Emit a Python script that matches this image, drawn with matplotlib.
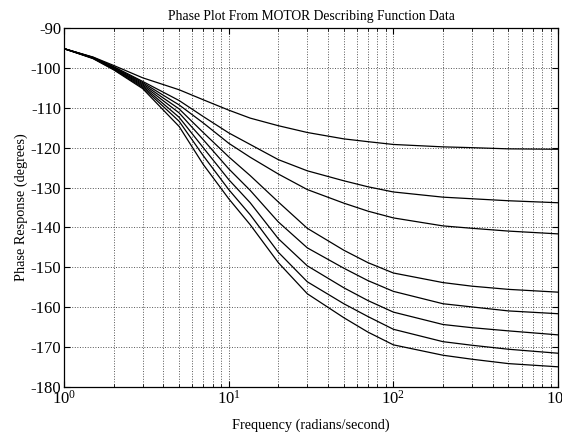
import matplotlib
matplotlib.use("Agg")
import matplotlib.pyplot as plt
from matplotlib.ticker import LogLocator, NullFormatter, MultipleLocator

plt.rcParams['font.family'] = ['Liberation Serif', 'DejaVu Serif']
plt.rcParams['mathtext.fontset'] = 'stix'
plt.rcParams['axes.unicode_minus'] = False

freq = [1, 1.5, 2, 3, 5, 7, 10, 13.5, 20, 30, 50, 70, 100, 200, 300, 500, 1000]

# phase (deg), one list per describing function curve, top to bottom
phase1 = [-95.2, -97.3, -99.4, -102.5, -105.5, -108.0, -110.6, -112.6, -114.5, -116.2, -117.8, -118.5, -119.2, -119.8, -120.0, -120.3, -120.4]
phase2 = [-95.2, -97.4, -99.7, -103.4, -108.2, -112.2, -116.3, -119.2, -123.0, -125.8, -128.3, -129.8, -131.1, -132.4, -132.8, -133.3, -133.8]
phase3 = [-95.2, -97.4, -99.8, -103.7, -109.3, -113.8, -118.9, -122.4, -126.6, -130.5, -133.9, -135.9, -137.6, -139.6, -140.2, -140.9, -141.6]
phase4 = [-95.2, -97.5, -100.0, -104.0, -110.3, -116.2, -122.3, -127.0, -133.6, -140.2, -145.7, -148.8, -151.4, -153.8, -154.7, -155.5, -156.2]
phase5 = [-95.2, -97.5, -100.1, -104.3, -111.3, -118.0, -125.3, -130.7, -138.6, -145.1, -150.2, -153.3, -156.0, -159.1, -159.9, -160.9, -161.6]
phase6 = [-95.2, -97.6, -100.2, -104.6, -112.4, -120.0, -128.0, -133.8, -142.8, -149.6, -155.1, -158.3, -161.2, -164.3, -165.1, -165.9, -166.9]
phase7 = [-95.2, -97.6, -100.4, -104.9, -113.4, -122.0, -130.5, -136.8, -146.2, -153.6, -159.1, -162.3, -165.5, -168.6, -169.5, -170.5, -171.5]
phase8 = [-95.2, -97.7, -100.5, -105.2, -114.7, -124.2, -132.8, -139.3, -148.8, -156.6, -162.6, -166.2, -169.4, -172.0, -173.0, -174.1, -174.9]

fig = plt.figure(figsize=(5.62, 4.36), dpi=100)
ax = fig.add_axes([0.114, 0.112, 0.879, 0.824])

for ph in [phase1, phase2, phase3, phase4, phase5, phase6, phase7, phase8]:
    ax.semilogx(freq, ph, color='black', linewidth=0.9)

ax.set_xlim(1, 1000)
ax.set_ylim(-180, -90)
ax.yaxis.set_major_locator(MultipleLocator(10))
ax.xaxis.set_major_locator(LogLocator(base=10))
ax.xaxis.set_minor_locator(LogLocator(base=10, subs=range(2, 10)))
ax.xaxis.set_minor_formatter(NullFormatter())

ax.grid(True, which='major', linestyle=':', color='#555555', linewidth=0.7)
ax.grid(True, which='minor', axis='x', linestyle=':', color='#555555', linewidth=0.7)
ax.tick_params(which='both', direction='in', top=True, right=True, labelsize=12, pad=2)
ax.tick_params(which='major', length=4)
ax.tick_params(which='minor', length=2.5)
for s in ax.spines.values():
    s.set_linewidth(0.9)

ax.set_title('Phase Plot From MOTOR Describing Function Data', fontsize=9.8, pad=6)
ax.set_xlabel('Frequency (radians/second)', fontsize=10.3, labelpad=8)
ax.set_ylabel('Phase Response (degrees)', fontsize=10.3, labelpad=2)

fig.savefig('out.png', dpi=100)
